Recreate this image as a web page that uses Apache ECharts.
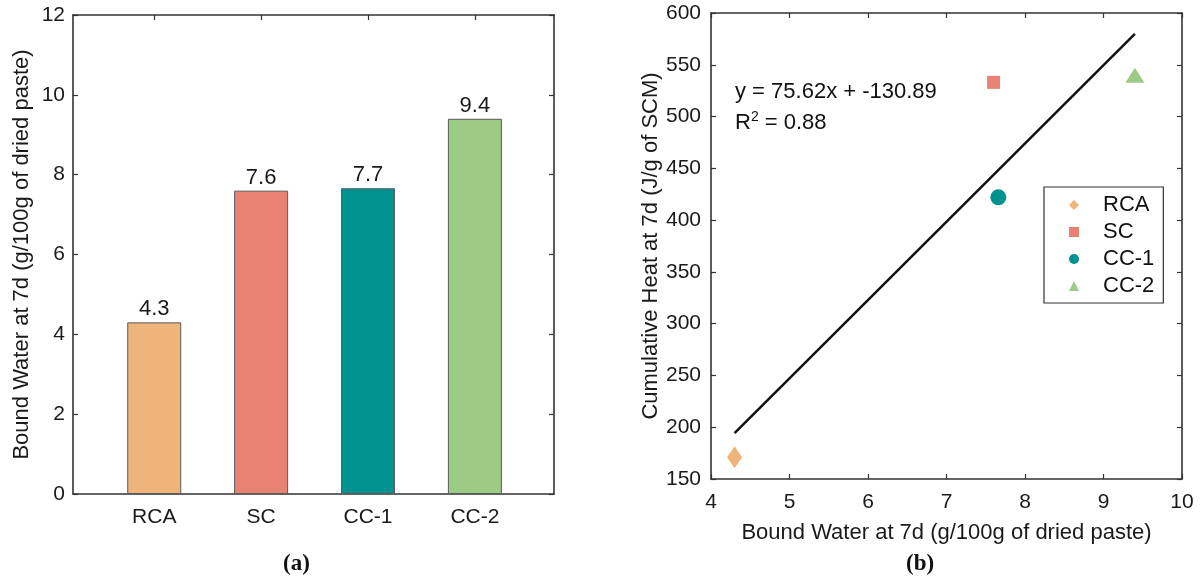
<!DOCTYPE html>
<html>
<head>
<meta charset="utf-8">
<script src="https://cdn.jsdelivr.net/npm/echarts@6/dist/echarts.min.js"></script>
<style>
  html, body { margin: 0; padding: 0; background: #fff; }
  #chart { width: 1200px; height: 580px; }
</style>
</head>
<body>
<div id="chart"></div>
<script>
const categories = ['RCA', 'SC', 'CC-1', 'CC-2'];
const catPos = [1, 2, 3, 4];
const boundWater = [4.3, 7.6, 7.66, 9.4];
const cumHeat = [171, 533, 422, 540];
const barColors = ['#EEB47A', '#E88373', '#00928F', '#9CCB85'];
const symbols = ['diamond', 'rect', 'circle', 'triangle'];
const symbolSizes = [[15, 22], 13, 16, [19, 15]];
const fitLine = [[4.3, 194.3], [9.4, 579.9]];
const fitText = 'y = 75.62x + -130.89';
const r2Text = '0.88';

const FONT = 'Liberation Sans';
const AX = '#333';

const chart = echarts.init(document.getElementById('chart'), null, { renderer: 'canvas' });

const lineStyle = { color: AX, width: 1.6 };
const frameX = (grid, pos, withLabels, extra) => Object.assign({
  gridIndex: grid,
  position: pos,
  axisLine: { show: true, onZero: false, lineStyle },
  axisTick: { show: true, inside: true, length: 5, lineStyle: { color: AX, width: 1.2 } },
  axisLabel: withLabels ? { show: true, fontFamily: FONT, fontSize: 21, color: '#1a1a1a' } : { show: false },
  splitLine: { show: false }
}, extra);

const barData = boundWater.map((v, i) => ({
  value: [catPos[i], v],
  itemStyle: { color: barColors[i], borderColor: '#5a5a5a', borderWidth: 1 }
}));

const scatterSeries = categories.map((name, i) => ({
  name,
  type: 'scatter',
  xAxisIndex: 2,
  yAxisIndex: 2,
  symbol: symbols[i],
  symbolSize: symbolSizes[i],
  itemStyle: { color: barColors[i], opacity: 1 },
  data: [[boundWater[i], cumHeat[i]]],
  z: 5
}));

const option = {
  animation: false,
  textStyle: { fontFamily: FONT },
  grid: [
    { left: 73, top: 15, width: 481, height: 479 },
    { left: 711, top: 13, width: 471, height: 466 }
  ],
  xAxis: [
    frameX(0, 'bottom', true, {
      type: 'value', min: 0.24, max: 4.74,
      axisTick: { show: true, inside: true, length: 5, customValues: catPos, lineStyle: { color: AX, width: 1.2 } },
      axisLabel: { show: true, customValues: catPos, fontFamily: FONT, fontSize: 21, color: '#1a1a1a', margin: 13,
        formatter: v => categories[Math.round(v) - 1] || '' }
    }),
    frameX(0, 'top', false, {
      type: 'value', min: 0.24, max: 4.74,
      axisTick: { show: true, inside: true, length: 5, customValues: catPos, lineStyle: { color: AX, width: 1.2 } }
    }),
    frameX(1, 'bottom', true, {
      type: 'value', min: 4, max: 10, interval: 1,
      axisLabel: { show: true, fontFamily: FONT, fontSize: 21, color: '#1a1a1a', margin: 13 },
      name: 'Bound Water at 7d (g/100g of dried paste)',
      nameLocation: 'middle', nameGap: 43,
      nameTextStyle: { fontFamily: FONT, fontSize: 22, color: '#1a1a1a' }
    }),
    frameX(1, 'top', false, { type: 'value', min: 4, max: 10, interval: 1 })
  ],
  yAxis: [
    frameX(0, 'left', true, {
      type: 'value', min: 0, max: 12, interval: 2,
      axisLabel: { show: true, fontFamily: FONT, fontSize: 21, color: '#1a1a1a', margin: 8 },
      name: 'Bound Water at 7d (g/100g of dried paste)',
      nameLocation: 'middle', nameGap: 40,
      nameTextStyle: { fontFamily: FONT, fontSize: 22, color: '#1a1a1a' }
    }),
    frameX(0, 'right', false, { type: 'value', min: 0, max: 12, interval: 2 }),
    frameX(1, 'left', true, {
      type: 'value', min: 150, max: 600, interval: 50,
      axisLabel: { show: true, fontFamily: FONT, fontSize: 21, color: '#1a1a1a', margin: 10 },
      name: 'Cumulative Heat at 7d (J/g of SCM)',
      nameLocation: 'middle', nameGap: 40,
      nameTextStyle: { fontFamily: FONT, fontSize: 22, color: '#1a1a1a' }
    }),
    frameX(1, 'right', false, { type: 'value', min: 150, max: 600, interval: 50 })
  ],
  legend: {
    data: categories,
    orient: 'vertical',
    left: 1044,
    top: 187,
    itemWidth: 10,
    itemHeight: 10,
    itemGap: 5,
    padding: [7, 9, 6, 25],
    borderColor: '#333',
    borderWidth: 1.2,
    backgroundColor: '#fff',
    textStyle: { fontFamily: FONT, fontSize: 22, color: '#111', lineHeight: 22, padding: [0, 0, 0, 19] }
  },
  series: [
    {
      type: 'bar',
      xAxisIndex: 0,
      yAxisIndex: 0,
      barWidth: 54,
      data: barData,
      label: {
        show: true,
        position: 'top',
        distance: 2,
        fontFamily: FONT,
        fontSize: 22,
        color: '#1a1a1a',
        formatter: p => p.value[1].toFixed(1)
      }
    },
    {
      type: 'line',
      xAxisIndex: 2,
      yAxisIndex: 2,
      data: fitLine,
      showSymbol: false,
      symbol: 'none',
      lineStyle: { color: '#111', width: 2.5 },
      z: 3
    },
    ...scatterSeries
  ],
  graphic: [
    {
      type: 'text', left: 735, top: 81,
      style: { text: fitText, fontFamily: FONT, fontSize: 22, fill: '#111' }
    },
    {
      type: 'text', left: 735, top: 110,
      style: {
        text: 'R{s|2} = ' + r2Text,
        fontFamily: FONT, fontSize: 22, fill: '#111', lineHeight: 26,
        rich: { s: { fontFamily: FONT, fontSize: 14, fill: '#111', verticalAlign: 'top', lineHeight: 26, padding: [0, 0, 10, 0] } }
      }
    },
    {
      type: 'text', left: 283, top: 553,
      style: { text: '(a)', fontFamily: 'Liberation Serif', fontWeight: 'bold', fontSize: 23, fill: '#111' }
    },
    {
      type: 'text', left: 906, top: 553,
      style: { text: '(b)', fontFamily: 'Liberation Serif', fontWeight: 'bold', fontSize: 23, fill: '#111' }
    }
  ]
};

chart.setOption(option);
</script>
</body>
</html>
